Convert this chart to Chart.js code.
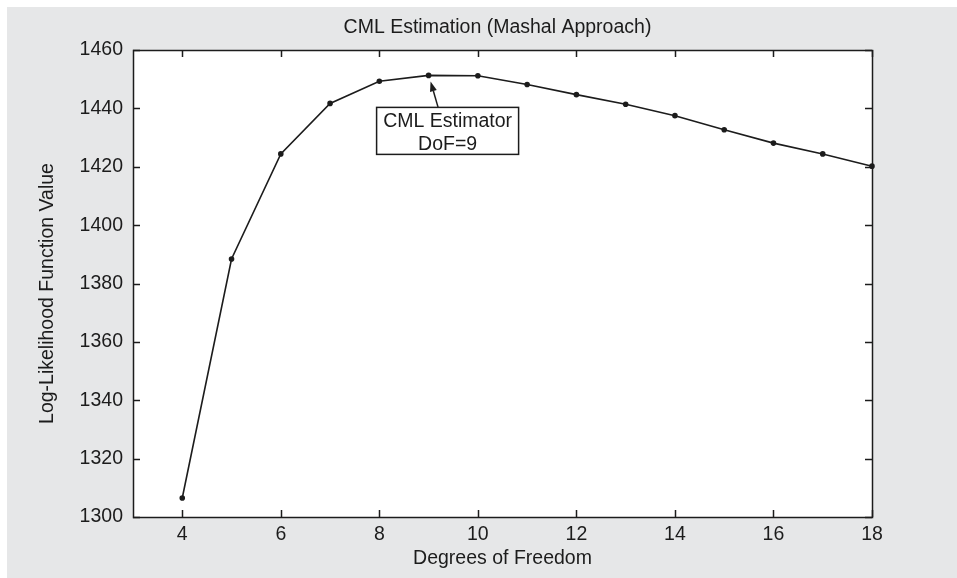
<!DOCTYPE html>
<html lang="en">
<head>
  <meta charset="UTF-8">
  <title>CML Estimation</title>
  <script src="https://cdn.jsdelivr.net/npm/chart.js"></script>
  <style>
    html, body { margin: 0; padding: 0; background: #fff; }
    #wrap { width: 957px; height: 578px; }
  </style>
</head>
<body>
<div id="wrap"><canvas id="cmlChart" width="957" height="578"></canvas></div>
<script>
  // degrees of freedom tried, and the log-likelihood at each one
  const dof = [4, 5, 6, 7, 8, 9, 10, 11, 12, 13, 14, 15, 16, 17, 18];
  const logLik = [1306.5, 1388.4, 1424.4, 1441.7, 1449.3, 1451.3, 1451.2, 1448.2,
                  1444.7, 1441.4, 1437.5, 1432.7, 1428.1, 1424.4, 1420.2];
  const xTicks = [4, 6, 8, 10, 12, 14, 16, 18];
  const yTicks = [1300, 1320, 1340, 1360, 1380, 1400, 1420, 1440, 1460];
  const bestIndex = 5;
  const noteLines = ['CML Estimator', 'DoF=9'];
  const chartTitle = 'CML Estimation (Mashal Approach)';
  const yLabel = 'Log-Likelihood Function Value';

  const ink = '#1c1c1c';
  const font = 'Liberation Sans, Arial, Helvetica, sans-serif';

  // grey page behind the white plot box, the title and the y label
  const backdrop = {
    id: 'backdrop',
    beforeDraw(chart) {
      const { ctx, chartArea: a } = chart;
      ctx.save();
      ctx.fillStyle = '#fff';
      ctx.fillRect(0, 0, chart.width, chart.height);
      ctx.fillStyle = '#e6e7e8';
      ctx.fillRect(7, 7, chart.width - 7, chart.height - 7);
      ctx.fillStyle = '#fff';
      ctx.fillRect(a.left, a.top, a.right - a.left, a.bottom - a.top);
      ctx.fillStyle = ink;
      ctx.font = '19.5px ' + font;
      ctx.textAlign = 'center';
      ctx.textBaseline = 'middle';
      ctx.fillText(chartTitle, (a.left + a.right) / 2 - 5, 28);
      ctx.translate(48, (a.top + a.bottom) / 2 + 10);
      ctx.rotate(-Math.PI / 2);
      ctx.fillText(yLabel, 0, 0);
      ctx.restore();
    }
  };

  // box outline plus inward tick marks on all four sides
  const frame = {
    id: 'frame',
    afterDraw(chart) {
      const { ctx, chartArea: a, scales } = chart;
      const len = 7;
      ctx.save();
      ctx.strokeStyle = ink;
      ctx.lineWidth = 1.5;
      ctx.beginPath();
      xTicks.forEach(v => {
        const px = Math.round(scales.x.getPixelForValue(v)) + 0.5;
        ctx.moveTo(px, a.bottom); ctx.lineTo(px, a.bottom - len);
        ctx.moveTo(px, a.top); ctx.lineTo(px, a.top + len);
      });
      yTicks.forEach(v => {
        const py = Math.round(scales.y.getPixelForValue(v)) + 0.5;
        ctx.moveTo(a.left, py); ctx.lineTo(a.left + len, py);
        ctx.moveTo(a.right, py); ctx.lineTo(a.right - len, py);
      });
      ctx.stroke();
      ctx.strokeRect(Math.round(a.left) + 0.5, Math.round(a.top) + 0.5,
                     Math.round(a.right - a.left), Math.round(a.bottom - a.top));
      ctx.restore();
    }
  };

  // text box with an arrow pointing at the best point
  const callout = {
    id: 'callout',
    afterDraw(chart) {
      const { ctx, scales } = chart;
      const px = scales.x.getPixelForValue(dof[bestIndex]);
      const py = scales.y.getPixelForValue(logLik[bestIndex]);
      const box = { l: px - 52, r: px + 90, t: py + 32, b: py + 79 };
      const head = { x: px + 2, y: py + 6 };
      const tail = { x: px + 9.5, y: box.t };
      ctx.save();
      ctx.fillStyle = '#fff';
      ctx.fillRect(box.l, box.t, box.r - box.l, box.b - box.t);
      ctx.strokeStyle = ink;
      ctx.lineWidth = 1.5;
      ctx.strokeRect(box.l, box.t, box.r - box.l, box.b - box.t);

      const ang = Math.atan2(head.y - tail.y, head.x - tail.x);
      const hl = 10, hw = 3.5;
      const bx = head.x - hl * Math.cos(ang), by = head.y - hl * Math.sin(ang);
      ctx.beginPath();
      ctx.moveTo(tail.x, tail.y);
      ctx.lineTo(bx, by);
      ctx.stroke();
      ctx.fillStyle = ink;
      ctx.beginPath();
      ctx.moveTo(head.x, head.y);
      ctx.lineTo(bx + hw * Math.sin(ang), by - hw * Math.cos(ang));
      ctx.lineTo(bx - hw * Math.sin(ang), by + hw * Math.cos(ang));
      ctx.closePath();
      ctx.fill();

      ctx.font = '19.5px ' + font;
      ctx.textAlign = 'center';
      ctx.textBaseline = 'middle';
      const cx = (box.l + box.r) / 2;
      ctx.fillText(noteLines[0], cx, box.t + 14);
      ctx.fillText(noteLines[1], cx, box.t + 37);
      ctx.restore();
    }
  };

  new Chart(document.getElementById('cmlChart'), {
    type: 'line',
    data: {
      datasets: [{
        data: dof.map((d, i) => ({ x: d, y: logLik[i] })),
        borderColor: ink,
        borderWidth: 1.6,
        backgroundColor: ink,
        pointRadius: 2,
        pointHoverRadius: 2,
        tension: 0,
        fill: false,
        clip: false
      }]
    },
    options: {
      responsive: false,
      animation: false,
      events: [],
      layout: { padding: { left: 0, right: 85, top: 50, bottom: 0 } },
      plugins: {
        legend: { display: false },
        tooltip: { enabled: false },
        title: { display: false }
      },
      scales: {
        x: {
          type: 'linear',
          min: 3,
          max: 18,
          grid: { display: false, drawTicks: false },
          border: { display: false },
          afterBuildTicks: s => { s.ticks = xTicks.map(v => ({ value: v })); },
          afterFit: s => { s.height = 61; },
          ticks: {
            color: ink,
            padding: 6,
            maxRotation: 0,
            callback: v => String(v),
            font: { family: font, size: 19.5 }
          },
          title: {
            display: true,
            text: 'Degrees of Freedom',
            color: ink,
            font: { family: font, size: 19.5 },
            padding: { top: 0, bottom: 8 }
          }
        },
        y: {
          min: 1300,
          max: 1460,
          grid: { display: false, drawTicks: false },
          border: { display: false },
          afterBuildTicks: s => { s.ticks = yTicks.map(v => ({ value: v })); },
          afterFit: s => { s.width = 133; },
          ticks: {
            color: ink,
            padding: 10,
            callback: v => String(v),
            font: { family: font, size: 19.5 }
          },
          title: { display: false }
        }
      }
    },
    plugins: [backdrop, frame, callout]
  });
</script>
</body>
</html>
